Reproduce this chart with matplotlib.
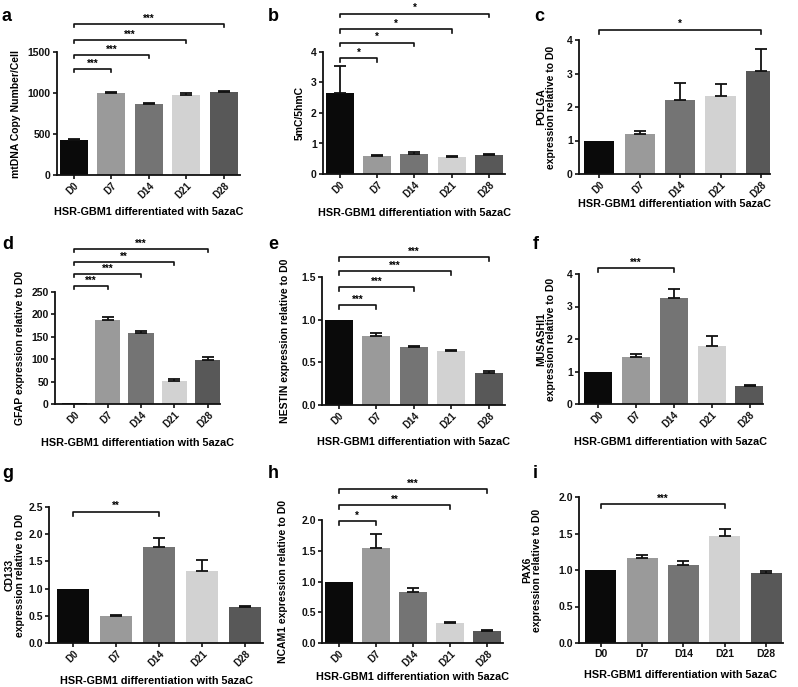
import matplotlib
matplotlib.use("Agg")
import matplotlib.pyplot as plt
from matplotlib.ticker import FormatStrFormatter

plt.rcParams['font.family'] = ['Liberation Sans', 'DejaVu Sans']
plt.rcParams['font.weight'] = 'bold'

categories = ['D0', 'D7', 'D14', 'D21', 'D28']
bar_colors = ['#0a0a0a', '#9a9a9a', '#747474', '#d2d2d2', '#585858']

mtdna_mean = [430, 1000, 860, 975, 1015]
mtdna_err = [15, 8, 15, 30, 10]
mc_mean = [2.65, 0.60, 0.67, 0.57, 0.63]
mc_err = [0.88, 0.02, 0.05, 0.03, 0.03]
polga_mean = [1.0, 1.2, 2.2, 2.32, 3.07]
polga_err = [0, 0.07, 0.52, 0.36, 0.66]
gfap_mean = [2, 188, 158, 51, 98]
gfap_err = [0, 7, 6, 5, 7]
nestin_mean = [1.0, 0.81, 0.68, 0.63, 0.38]
nestin_err = [0, 0.03, 0.01, 0.01, 0.02]
musashi_mean = [1.0, 1.45, 3.25, 1.77, 0.55]
musashi_err = [0, 0.10, 0.30, 0.31, 0.03]
cd133_mean = [1.0, 0.50, 1.77, 1.32, 0.67]
cd133_err = [0, 0.02, 0.16, 0.20, 0.01]
ncam_mean = [1.0, 1.54, 0.83, 0.32, 0.20]
ncam_err = [0, 0.23, 0.06, 0.02, 0.01]
pax6_mean = [1.0, 1.16, 1.07, 1.46, 0.96]
pax6_err = [0, 0.04, 0.05, 0.10, 0.02]

# significance brackets: (target index, height, label)
a_sig = [(1, 1293, '***'), (2, 1463, '***'), (3, 1646, '***'), (4, 1841, '***')]
b_sig = [(1, 3.8, '*'), (2, 4.3, '*'), (3, 4.75, '*'), (4, 5.25, '*')]
c_sig = [(4, 4.3, '*')]
d_sig = [(1, 263, '***'), (2, 290, '***'), (3, 317, '**'), (4, 346, '***')]
e_sig = [(1, 1.17, '***'), (2, 1.38, '***'), (3, 1.57, '***'), (4, 1.73, '***')]
f_sig = [(2, 4.18, '***')]
g_sig = [(2, 2.41, '**')]
h_sig = [(1, 1.98, '*'), (3, 2.24, '**'), (4, 2.5, '***')]
i_sig = [(3, 1.9, '***')]

W, H = 798, 687
fig = plt.figure(figsize=(W / 100, H / 100), dpi=100)

XL_A = 'HSR-GBM1 differentiated with 5azaC'
XL = 'HSR-GBM1 differentiation with 5azaC'

panels = [
    # letter, px box (x0,x1,ytop,ybottom), mean, err, ymax, yticks, fmt, ylabel, xlabel, sig,
    # letter pos, rotate, xlim, ylabel right-edge px, xlabel centre px
    ('a', (57, 240, 52, 175), mtdna_mean, mtdna_err, 1500, [0, 500, 1000, 1500], '%d',
     'mtDNA Copy Number/Cell', XL_A, a_sig, (2, 8), True, (-0.45, 4.43), 21, 212),
    ('b', (323, 505, 52, 174), mc_mean, mc_err, 4, [0, 1, 2, 3, 4], '%d',
     '5mC/5hmC', XL, b_sig, (268, 8), True, (-0.45, 4.43), 305, 213),
    ('c', (579, 770, 40, 174), polga_mean, polga_err, 4, [0, 1, 2, 3, 4], '%d',
     'POLGA\nexpression relative to D0', XL, c_sig, (534, 8), True, (-0.5, 4.22), 556, 204),
    ('d', (55, 220, 292, 404), gfap_mean, gfap_err, 250, [0, 50, 100, 150, 200, 250], '%d',
     'GFAP expression relative to D0', XL, d_sig, (2, 236), True, (-0.57, 4.36), 25, 443),
    ('e', (322, 505, 277, 405), nestin_mean, nestin_err, 1.5, [0, 0.5, 1.0, 1.5], '%.1f',
     'NESTIN expression relative to D0', XL, e_sig, (268, 236), True, (-0.45, 4.43), 290, 442),
    ('f', (579, 763, 274, 404), musashi_mean, musashi_err, 4, [0, 1, 2, 3, 4], '%d',
     'MUSASHI1\nexpression relative to D0', XL, f_sig, (533, 236), True, (-0.5, 4.35), 556, 442),
    ('g', (49, 263, 507, 643), cd133_mean, cd133_err, 2.5, [0, 0.5, 1.0, 1.5, 2.0, 2.5], '%.1f',
     'CD133\nexpression relative to D0', XL, g_sig, (2, 465), True, (-0.56, 4.42), 25, 681),
    ('h', (322, 503, 520, 643), ncam_mean, ncam_err, 2.0, [0, 0.5, 1.0, 1.5, 2.0], '%.1f',
     'NCAM1 expression relative to D0', XL, h_sig, (268, 465), True, (-0.45, 4.43), 288, 677),
    ('i', (579, 783, 497, 643), pax6_mean, pax6_err, 2.0, [0, 0.5, 1.0, 1.5, 2.0], '%.1f',
     'PAX6\nexpression relative to D0', XL, i_sig, (533, 465), False, (-0.53, 4.41), 542, 675),
]

for (letter, box, mean, err, ymax, yticks, fmt, ylabel, xlabel, sig, lpos, rot, xlim,
     ylx, xly) in panels:
    x0, x1, yt, yb = box
    ax = fig.add_axes([x0 / W, 1 - yb / H, (x1 - x0) / W, (yb - yt) / H])
    xs = list(range(len(categories)))
    ax.bar(xs, mean, width=0.75, color=bar_colors, zorder=2)
    ex = [x for x, e in zip(xs, err) if e > 0]
    em = [m for m, e in zip(mean, err) if e > 0]
    ee = [e for e in err if e > 0]
    ax.errorbar(ex, em, yerr=[[0] * len(ee), ee], fmt='none', ecolor='#111111',
                elinewidth=1.3, capsize=4.5, capthick=1.3, zorder=3)
    ax.set_xlim(*xlim)
    ax.set_ylim(0, ymax)
    ax.set_yticks(yticks)
    ax.yaxis.set_major_formatter(FormatStrFormatter(fmt))
    ax.set_xticks(xs)
    if rot:
        ax.set_xticklabels(categories, rotation=45, ha='right', rotation_mode='anchor')
    else:
        ax.set_xticklabels(categories)
    for s in ['top', 'right']:
        ax.spines[s].set_visible(False)
    for s in ['left', 'bottom']:
        ax.spines[s].set_linewidth(1.3)
        ax.spines[s].set_color('#111111')
    ax.tick_params(axis='both', direction='out', length=3, width=1.2, labelsize=7.5,
                   colors='#111111', pad=1.5)
    if rot:
        ax.tick_params(axis='x', labelsize=7, pad=1)
    for lab in ax.get_xticklabels() + ax.get_yticklabels():
        lab.set_fontweight('bold')
    hpx = yb - yt
    wpx = x1 - x0
    ax.set_ylabel(ylabel, fontsize=7.5, fontweight='bold', linespacing=1.0)
    ax.yaxis.set_label_coords((ylx - x0) / wpx, 0.5)
    ax.set_xlabel(xlabel, fontsize=7.8, fontweight='bold', va='center')
    ax.xaxis.set_label_coords(0.5, -(xly - yb) / hpx)
    # brackets
    tick = ymax * 0.028
    for (j, yv, lab) in sig:
        ax.plot([0, 0, j, j], [yv - tick, yv, yv, yv - tick], color='#111111', lw=1.2,
                clip_on=False, zorder=4)
        ax.text(j / 2, yv + ymax * 0.005, lab, ha='center', va='bottom', fontsize=7,
                fontweight='bold', clip_on=False)
    fig.text(lpos[0] / W, 1 - lpos[1] / H, letter, fontsize=13, fontweight='bold',
             va='top', ha='left')

fig.savefig('out.png', dpi=100)
